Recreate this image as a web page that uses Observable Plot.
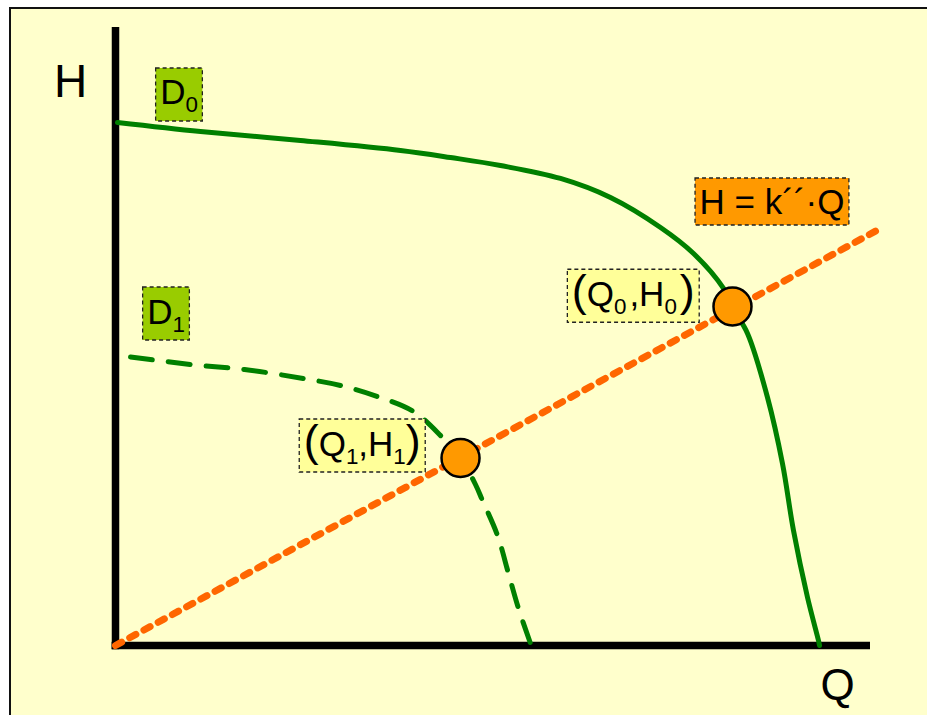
<!DOCTYPE html>
<html>
<head>
<meta charset="utf-8">
<script src="https://cdn.jsdelivr.net/npm/d3@7"></script>
<script src="https://cdn.jsdelivr.net/npm/@observablehq/plot@0.6"></script>
<style>
  html, body { margin: 0; padding: 0; background: #ffffff; overflow: hidden; }
  #frame { position: absolute; left: 9px; top: 6.5px; width: 940px; height: 740px;
           background: #FFFFCC; border-top: 2.5px solid #111; border-left: 2.5px solid #111; }
  #chart { position: absolute; left: 0; top: 0; }
</style>
</head>
<body>
<div id="frame"></div>
<div id="chart"></div>
<script>
// ---- Data (Q = flow, H = head, arbitrary units) ----
// Pump characteristic D0 (solid)
const d0Q = [0.026, 1.126, 2.450, 3.775, 4.437, 5.099, 5.894, 6.556, 7.219, 7.656, 8.053, 8.172, 8.371, 8.636, 8.834, 8.980, 9.166, 9.311, 9.325];
const d0H = [8.463, 8.317, 8.172, 8.010, 7.896, 7.767, 7.557, 7.249, 6.764, 6.343, 5.777, 5.469, 5.049, 4.013, 2.945, 1.861, 0.777, 0.081, 0.0];
// Pump characteristic D1 (dashed)
const d1Q = [0.199, 0.993, 1.709, 2.490, 2.980, 3.470, 3.947, 4.318, 4.570, 4.768, 4.861, 5.060, 5.205, 5.338, 5.497];
const d1H = [4.668, 4.547, 4.466, 4.320, 4.207, 4.029, 3.786, 3.382, 3.042, 2.605, 2.346, 1.780, 1.165, 0.599, 0.032];
// System line H = k''·Q (endpoints)
const lineQ = [0, 10.15];
const lineH = [0, 6.76];
// Operating points (Q0,H0) and (Q1,H1)
const pointQ = [8.172, 4.570];
const pointH = [5.485, 3.034];
// Annotation labels (anchored at box centres, data units)
const labelText = ["D_0", "D_1", "(Q_0\u200A,H_0\u200A)", "(Q_1,H_1)", "H = k´´·Q"];
const labelKind = ["curve", "curve", "point", "point", "line"];
const labelQ = [0.841, 0.669, 6.858, 3.268, 8.695];
const labelH = [8.916, 5.372, 5.659, 3.236, 7.136];
// Axis titles
const axisTitle = ["H", "Q"];
const axisTitleQ = [-0.596, 9.563];
const axisTitleH = [8.872, -0.874];
const axisMax = 10;

// ---- Styles ----
const FONT = "Liberation Sans, Arial, Helvetica, sans-serif";
const GREEN = "#008000";
const ORANGE_LINE = "#FF6600";
const kindFill = {curve: "#99CC00", point: "#FFFF99", line: "#FF9900"};
const LABEL_FS = 35;

const labels = labelText.map((t, i) => ({t, kind: labelKind[i], Q: labelQ[i], H: labelH[i]}));

const svg = Plot.plot({
  width: 927,
  height: 715,
  style: {background: "transparent", overflow: "visible", fontFamily: FONT},
  x: {domain: [0, axisMax], range: [115, 870], axis: null},
  y: {domain: [0, axisMax], range: [645, 27], axis: null},
  marks: [
    // axes
    Plot.ruleX([0], {y1: -0.07, y2: axisMax, stroke: "#000", strokeWidth: 7.5}),
    Plot.ruleY([0], {x1: -0.045, x2: axisMax, stroke: "#000", strokeWidth: 7.5}),
    // curves
    Plot.line(d0Q, {x: d0Q, y: d0H, curve: "catmull-rom", stroke: GREEN, strokeWidth: 5}),
    Plot.line(d1Q, {x: d1Q, y: d1H, curve: "catmull-rom", stroke: GREEN, strokeWidth: 5, strokeDasharray: "22,16"}),
    // system line
    Plot.line(lineQ, {x: lineQ, y: lineH, stroke: ORANGE_LINE, strokeWidth: 7, strokeDasharray: "7,9.2"}),
    // operating points
    Plot.dot(pointQ, {x: pointQ, y: pointH, r: 19, fill: "#FF9900", stroke: "#000", strokeWidth: 2.5}),
    // annotation labels (first text mark)
    Plot.text(labels, {x: "Q", y: "H", text: "t", dy: 10, lineAnchor: "bottom", textAnchor: "middle",
      fontSize: LABEL_FS, fill: "#000", fontFamily: FONT}),
    // axis titles
    Plot.text(axisTitle, {x: axisTitleQ, y: axisTitleH, text: axisTitle, lineAnchor: "bottom",
      textAnchor: "middle", fontSize: (d) => d === "H" ? 46 : 44, fill: "#000", fontFamily: FONT})
  ]
});
document.getElementById("chart").append(svg);

// ---- rich text (subscripts, tall parentheses) + dashed label boxes ----
const NS = "http://www.w3.org/2000/svg";
const textGroups = svg.querySelectorAll('g[aria-label="text"]');
const labelGroup = textGroups[0];
labelGroup.querySelectorAll("text").forEach((t, k) => {
  const idx = (typeof t.__data__ === "number") ? t.__data__ : k;
  const lab = labels[idx];
  const s = lab.t;
  t.textContent = "";
  const re = /_(.)|([()])|([^_()]+)/g;
  let m, shifted = false, hasSub = false;
  while ((m = re.exec(s))) {
    const ts = document.createElementNS(NS, "tspan");
    if (m[1]) {
      ts.textContent = m[1];
      ts.setAttribute("font-size", LABEL_FS * 0.64);
      ts.setAttribute("dy", 8);
      shifted = true; hasSub = true;
    } else {
      if (shifted) { ts.setAttribute("dy", -8); shifted = false; }
      if (m[2]) { ts.textContent = m[2]; ts.setAttribute("font-size", LABEL_FS * 1.28); }
      else ts.textContent = m[3];
    }
    t.appendChild(ts);
  }
  const bb = t.getBBox();
  const ya = parseFloat(t.getAttribute("y"));
  const base = isNaN(ya) ? 0 : ya;
  const padX = 4.5;
  const r = document.createElementNS(NS, "rect");
  r.setAttribute("x", bb.x - padX);
  r.setAttribute("width", bb.width + 2 * padX);
  r.setAttribute("y", base - 36.5);
  r.setAttribute("height", 36.5 + (hasSub ? 16.5 : 10.5));
  if (t.getAttribute("transform")) r.setAttribute("transform", t.getAttribute("transform"));
  r.setAttribute("fill", kindFill[lab.kind]);
  r.setAttribute("stroke", "#222");
  r.setAttribute("stroke-width", 1.3);
  r.setAttribute("stroke-dasharray", "4,3");
  t.parentNode.insertBefore(r, t);
});
</script>
</body>
</html>
